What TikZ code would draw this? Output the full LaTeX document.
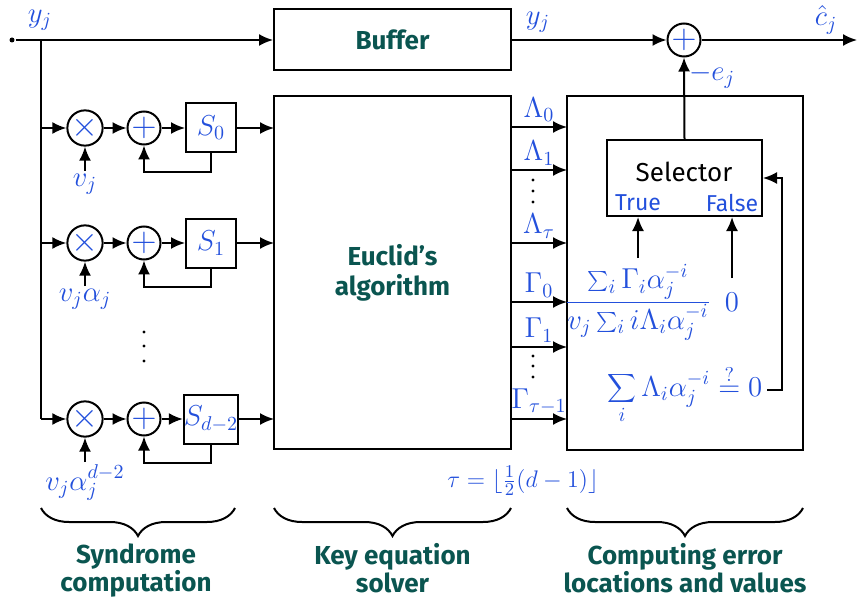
\documentclass[tikz,border=0pt]{standalone}
\usepackage{fontspec}
\setsansfont{Fira Sans}
\usetikzlibrary{arrows.meta,decorations.pathreplacing,calc}
\definecolor{mblue}{RGB}{35,80,220}
\definecolor{mteal}{RGB}{10,85,80}
\begin{document}
\begin{tikzpicture}[x=0.5pt,y=-0.5pt,line width=1pt,>={Latex[length=7pt,width=6pt]},
  op/.style={circle,draw,minimum size=15pt,inner sep=0pt,text=mblue,font=\fontsize{16}{16}\selectfont},
  sbox/.style={draw,minimum width=25pt,minimum height=24.5pt,inner sep=0pt,text=mblue,font=\fontsize{14}{16}\selectfont},
  mlab/.style={text=mblue,font=\fontsize{14}{16}\selectfont,inner sep=1pt},
  slab/.style={text=mblue,font=\fontsize{14}{16}\selectfont,inner sep=1pt},
  vdot/.style={circle,fill,inner sep=0pt,minimum size=1.6pt},
  bigbox/.style={draw,text=mteal,font=\sffamily\bfseries\fontsize{13}{15}\selectfont,align=center},
  title/.style={text=mteal,font=\sffamily\bfseries\fontsize{13}{14}\selectfont,align=center},
  brc/.style={decorate,decoration={brace,amplitude=14pt,mirror}}]
\useasboundingbox (0,0) rectangle (857,599);
% input and buffer
\node[circle,fill,inner sep=0pt,minimum size=2.5pt] (in) at (12,40) {};
\coordinate (jn) at (41,40);
\coordinate (jb) at (41,419);
\node[bigbox,minimum width=118.5pt,minimum height=30.5pt] (buf) at (392.5,40) {Buffer};
\draw[->] (in) -- (buf.west);
\draw (jn) -- (jb);
\node[mlab] (yl) at (40,20) {$y_j$};
\node[op] (add) at (684,40) {$+$};
\draw[->] (buf.east) -- (add.west);
\node[mlab] (yl2) at (538,22) {$y_j$};
\coordinate (out) at (857,40);
\draw[->] (add.east) -- (out);
\node[mlab] (chat) at (826,20) {$\hat c_j$};
% big boxes
\node[bigbox,minimum width=118.5pt,minimum height=176.5pt] (euc) at (392.5,272.5) {Euclid’s\\algorithm};
\node[draw,minimum width=118pt,minimum height=177pt] (cmp) at (685,273) {};
% syndrome rows
\foreach \r/\y/\v/\s in {0/128/v_j/S_0, 1/243/v_j\alpha_j/S_1, 2/419/{v_j\alpha_j^{d-2}}/S_{d-2}}{
  \node[op] (m\r) at (85,\y) {$\times$};
  \node[op] (a\r) at (144,\y) {$+$};
  \node[sbox] (s\r) at (211,\y) {$\s$};
  \coordinate (t\r) at (41,\y);
  \coordinate (e\r) at (274,\y);
  \coordinate (vb\r) at (85,\y+43);
  \draw[->] (t\r) -- (m\r);
  \draw[->] (m\r) -- (a\r);
  \draw[->] (a\r) -- (s\r);
  \draw[->] (s\r) -- (e\r);
  \draw[->] (s\r.south) -- ++(0,18.5) -| (a\r.south);
  \draw[->] (vb\r) -- (m\r.south);
  \node[mlab,anchor=north] (vl\r) at (vb\r) {$\v$};
}
% vertical dots
\foreach \x/\y in {144/332, 144/346, 144/361, 533/180, 533/191, 533/202, 533/356, 533/366, 533/377}{
  \node[vdot] at (\x,\y) {};
}
% lambda / gamma arrows
\foreach \n/\y/\l in {l0/127/\Lambda_0, l1/170/\Lambda_1, lt/243/\Lambda_\tau, g0/302/\Gamma_0, g1/347/\Gamma_1, gt/419/\Gamma_{\tau-1}}{
  \coordinate (\n a) at (511,\y);
  \coordinate (\n b) at (567,\y);
  \draw[->] (\n a) -- (\n b) node[midway,above,slab,yshift=1pt] {$\l$};
}
% selector
\node[draw,minimum width=77.5pt,minimum height=38pt] (sel) at (684.5,178) {};
\node[font=\sffamily\fontsize{13}{15}\selectfont] (seltxt) at (684,172) {Selector};
\node[text=mblue,font=\sffamily\fontsize{11.5}{13}\selectfont] (tru) at (638,203) {True};
\node[text=mblue,font=\sffamily\fontsize{11.5}{13}\selectfont] (fal) at (732,203) {False};
\draw[->] (sel.north) -- (add.south);
\node[mlab] (el) at (712,76) {$-e_j$};
\node[mlab] (frac) at (638,302) {$\displaystyle\frac{\sum_i\Gamma_i\alpha_j^{-i}}{v_j\sum_i i\Lambda_i\alpha_j^{-i}}$};
\node[mlab] (zero) at (732,302) {$0$};
\coordinate (tr) at (638,258);
\coordinate (fa) at (732,278);
\draw[->] (tr) -- (tr |- sel.south);
\draw[->] (fa) -- (fa |- sel.south);
\node[mlab,anchor=base] (chk) at (685,396) {$\displaystyle\sum_i\Lambda_i\alpha_j^{-i}\stackrel{?}{=}0$};
\coordinate (ck) at (767,390);
\draw[->] (ck) -- (782,390) |- (sel.east);
\node[mlab,font=\fontsize{12.5}{14}\selectfont] (tau) at (523,481) {$\tau=\lfloor\frac12(d-1)\rfloor$};
% braces
\draw[brc] (41,508) -- (235,508);
\draw[brc] (274,508) -- (511,508);
\draw[brc] (567,508) -- (803,508);
\node[title,anchor=north] (t1) at (136,536) {Syndrome\\computation};
\node[title,anchor=north] (t2) at (392.5,536) {Key equation\\solver};
\node[title,anchor=north] (t3) at (685,536) {Computing error\\locations and values};
\end{tikzpicture}
\end{document}
